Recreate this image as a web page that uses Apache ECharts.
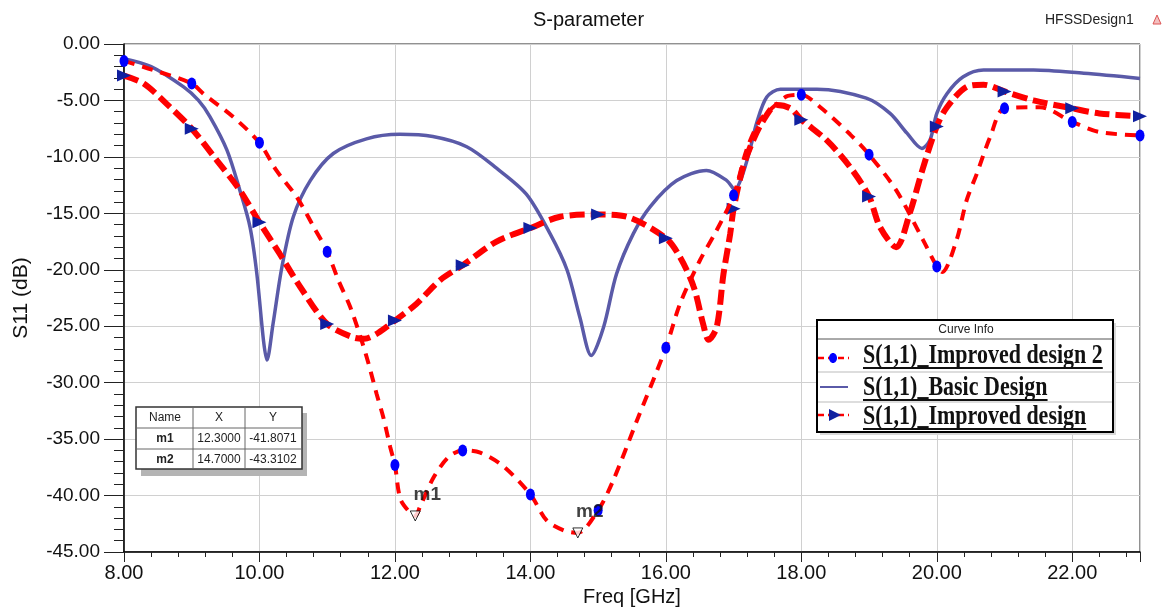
<!DOCTYPE html>
<html>
<head>
<meta charset="utf-8">
<script src="https://cdn.jsdelivr.net/npm/echarts@6/dist/echarts.min.js"></script>
<style>
html,body{margin:0;padding:0;background:#fff;}
#main{width:1168px;height:608px;}
</style>
</head>
<body>
<div id="main"></div>
<script>
// ---- data ----
const seriesNames = ['S(1,1)_Improved design 2', 'S(1,1)_Basic Design', 'S(1,1)_Improved design'];

const basicFreq = [8.0, 8.4, 8.88, 9.1, 9.27, 9.52, 9.71, 9.86, 9.96, 10.06, 10.11, 10.2, 10.33, 10.5, 10.75, 11.09, 11.58, 12.07, 12.56, 13.06, 13.5, 13.94, 14.29, 14.54, 14.73, 14.9, 15.08, 15.27, 15.52, 15.77, 16.16, 16.6, 16.9, 17.02, 17.12, 17.24, 17.34, 17.49, 17.69, 18.23, 18.96, 19.31, 19.56, 19.78, 19.9, 20.0, 20.15, 20.39, 20.69, 21.43, 22.17, 23.0];
const basicS11 = [-1.3, -2.0, -3.8, -5.0, -6.45, -9.4, -12.95, -16.2, -20.3, -26.3, -28.0, -24.8, -19.8, -15.3, -12.1, -9.7, -8.4, -8.0, -8.2, -9.1, -11.0, -13.3, -16.8, -20.0, -24.2, -27.6, -25.1, -20.4, -16.8, -14.4, -12.1, -11.2, -12.1, -12.9, -11.8, -9.4, -7.0, -4.7, -4.0, -4.0, -4.8, -6.15, -7.9, -9.25, -8.5, -6.15, -4.4, -2.9, -2.3, -2.3, -2.6, -3.05];

const imp1Freq = [8.0, 8.29, 8.63, 9.0, 9.37, 9.71, 10.0, 10.3, 10.6, 11.0, 11.39, 11.55, 11.75, 12.0, 12.32, 12.67, 13.0, 13.5, 14.0, 14.44, 15.0, 15.42, 16.0, 16.21, 16.41, 16.55, 16.63, 16.75, 16.85, 16.95, 17.0, 17.14, 17.29, 17.44, 17.64, 17.84, 18.0, 18.37, 18.72, 19.0, 19.16, 19.4, 19.6, 19.8, 20.0, 20.15, 20.44, 20.69, 21.0, 21.43, 22.0, 22.4, 23.0];
const imp1S11 = [-2.8, -3.5, -5.3, -7.5, -10.3, -12.95, -15.8, -18.6, -21.5, -24.8, -26.0, -26.1, -25.6, -24.5, -23.0, -20.9, -19.6, -17.5, -16.3, -15.3, -15.1, -15.3, -17.2, -18.9, -21.5, -24.8, -26.2, -25.1, -20.4, -16.8, -14.6, -10.9, -8.5, -6.75, -5.4, -5.7, -6.7, -8.5, -10.9, -13.5, -16.2, -18.0, -15.0, -10.9, -7.3, -5.6, -3.8, -3.6, -4.2, -5.0, -5.7, -6.15, -6.4];

const imp2Freq = [8.0, 8.43, 9.0, 9.17, 9.61, 10.0, 10.25, 10.55, 10.8, 11.0, 11.17, 11.34, 11.51, 11.61, 11.73, 11.83, 11.93, 12.0, 12.08, 12.22, 12.3, 12.37, 12.57, 12.79, 13.0, 13.26, 13.6, 14.0, 14.24, 14.5, 14.7, 15.0, 15.22, 15.57, 16.0, 16.21, 16.5, 16.75, 17.0, 17.19, 17.39, 17.59, 17.8, 18.0, 18.28, 18.72, 19.0, 19.4, 19.8, 20.0, 20.08, 20.29, 20.44, 20.59, 20.79, 21.0, 21.52, 22.0, 22.4, 23.0];
const imp2S11 = [-1.5, -2.3, -3.5, -4.4, -6.45, -8.75, -11.2, -13.55, -16.2, -18.4, -21.0, -23.3, -26.3, -28.3, -31.0, -33.1, -35.7, -37.3, -40.3, -41.5, -41.8, -41.0, -38.4, -36.6, -36.0, -36.2, -37.4, -39.9, -42.2, -43.1, -43.3, -41.3, -38.7, -33.4, -26.9, -23.0, -19.2, -16.5, -13.4, -9.4, -6.75, -5.56, -4.6, -4.5, -5.6, -8.0, -9.8, -12.95, -17.4, -19.7, -20.2, -17.4, -13.85, -11.5, -8.2, -5.7, -5.6, -6.9, -7.8, -8.1];

const markerNames = ['m1', 'm2'];
const markerFreq = [12.3, 14.7];
const markerS11 = [-41.8071, -43.3102];

// ---- helpers ----
function buildData(freq, vals, withMarkers) {
  return freq.map((f, i) => {
    const item = { value: [f, vals[i]] };
    if (!withMarkers || !Number.isInteger(f)) item.symbol = 'none';
    return item;
  });
}

const RED = '#ff0000';
const BASIC = '#5a5aa8';
const CIRC = '#0000ff';
const TRI = '#1020a0';

const chart = echarts.init(document.getElementById('main'));

// measure legend text widths for underlines
const mctx = document.createElement('canvas').getContext('2d');
const legFont = 'bold 22px "Liberation Serif"';
mctx.font = legFont;

const legendRowsY = [356, 388, 417];
const legendGraphic = [];
legendGraphic.push({ type: 'rect', shape: { x: 820, y: 323, width: 296, height: 112 }, style: { fill: '#d8d8d8' }, z: 100 });
legendGraphic.push({ type: 'rect', shape: { x: 817, y: 320, width: 296, height: 112 }, style: { fill: '#fff', stroke: '#000', lineWidth: 2 }, z: 101 });
legendGraphic.push({ type: 'line', shape: { x1: 818, y1: 339, x2: 1112, y2: 339 }, style: { stroke: '#555', lineWidth: 1 }, z: 102 });
legendGraphic.push({ type: 'line', shape: { x1: 818, y1: 372, x2: 1112, y2: 372 }, style: { stroke: '#bbb', lineWidth: 1 }, z: 102 });
legendGraphic.push({ type: 'line', shape: { x1: 818, y1: 402, x2: 1112, y2: 402 }, style: { stroke: '#bbb', lineWidth: 1 }, z: 102 });
legendGraphic.push({ type: 'text', x: 966, y: 330, style: { text: 'Curve Info', font: '12px "Liberation Sans"', fill: '#222', align: 'center', verticalAlign: 'middle' }, z: 103 });
seriesNames.forEach((n, i) => {
  const y = legendRowsY[i];
  legendGraphic.push({ type: 'text', x: 863, y: y, scaleY: 1.2, style: { text: n, font: legFont, fill: '#111', align: 'left', verticalAlign: 'middle' }, z: 103 });
  const w = mctx.measureText(n).width;
  legendGraphic.push({ type: 'rect', shape: { x: 863, y: y + 11, width: w, height: 2 }, style: { fill: '#111' }, z: 103 });
});
legendGraphic.push({ type: 'line', shape: { x1: 818, y1: 358, x2: 849, y2: 358 }, style: { stroke: RED, lineWidth: 2.5, lineDash: [6, 4] }, z: 103 });
legendGraphic.push({ type: 'ellipse', shape: { cx: 833, cy: 358, rx: 4, ry: 5 }, style: { fill: CIRC }, z: 104 });
legendGraphic.push({ type: 'line', shape: { x1: 820, y1: 387, x2: 848, y2: 387 }, style: { stroke: BASIC, lineWidth: 2 }, z: 103 });
legendGraphic.push({ type: 'line', shape: { x1: 818, y1: 415, x2: 849, y2: 415 }, style: { stroke: RED, lineWidth: 2.5, lineDash: [6, 4] }, z: 103 });
legendGraphic.push({ type: 'polygon', shape: { points: [[829, 409], [841, 415], [829, 421]] }, style: { fill: TRI }, z: 104 });

// marker table
const tbl = [];
tbl.push({ type: 'rect', shape: { x: 141, y: 413, width: 166, height: 63 }, style: { fill: '#b4b4b4' }, z: 100 });
tbl.push({ type: 'rect', shape: { x: 136, y: 407, width: 166, height: 62 }, style: { fill: '#fff', stroke: '#333', lineWidth: 1.5 }, z: 101 });
tbl.push({ type: 'line', shape: { x1: 193, y1: 407, x2: 193, y2: 469 }, style: { stroke: '#666', lineWidth: 1 }, z: 102 });
tbl.push({ type: 'line', shape: { x1: 245, y1: 407, x2: 245, y2: 469 }, style: { stroke: '#666', lineWidth: 1 }, z: 102 });
tbl.push({ type: 'line', shape: { x1: 136, y1: 428, x2: 302, y2: 428 }, style: { stroke: '#666', lineWidth: 1 }, z: 102 });
tbl.push({ type: 'line', shape: { x1: 136, y1: 449, x2: 302, y2: 449 }, style: { stroke: '#666', lineWidth: 1 }, z: 102 });
const colX = [165, 219, 273];
['Name', 'X', 'Y'].forEach((t, j) => {
  tbl.push({ type: 'text', x: colX[j], y: 418, style: { text: t, font: '12px "Liberation Sans"', fill: '#222', align: 'center', verticalAlign: 'middle' }, z: 103 });
});
markerNames.forEach((n, i) => {
  const y = 439 + i * 21;
  tbl.push({ type: 'text', x: colX[0], y: y, style: { text: n, font: 'bold 12px "Liberation Sans"', fill: '#222', align: 'center', verticalAlign: 'middle' }, z: 103 });
  tbl.push({ type: 'text', x: colX[1], y: y, style: { text: markerFreq[i].toFixed(4), font: '12px "Liberation Sans"', fill: '#222', align: 'center', verticalAlign: 'middle' }, z: 103 });
  tbl.push({ type: 'text', x: colX[2], y: y, style: { text: markerS11[i].toFixed(4), font: '12px "Liberation Sans"', fill: '#222', align: 'center', verticalAlign: 'middle' }, z: 103 });
});

const topRight = [
  { type: 'text', x: 1045, y: 20, style: { text: 'HFSSDesign1', font: '14px "Liberation Sans"', fill: '#222', align: 'left', verticalAlign: 'middle' } },
  { type: 'polygon', shape: { points: [[1157, 15], [1153, 24], [1161, 24]] }, style: { fill: '#f3c0c0', stroke: '#d55', lineWidth: 1 } }
];

const lineCommon = { smooth: 0.3 };

const option = {
  animation: false,
  backgroundColor: '#fff',
  title: {
    text: 'S-parameter', left: 528, top: 5,
    textStyle: { fontSize: 20, fontWeight: 'normal', fontFamily: 'Liberation Sans', color: '#111' }
  },
  grid: { left: 124, right: 28, top: 44, bottom: 56, show: true, borderColor: '#222', borderWidth: 1, containLabel: false, outerBoundsMode: 'none' },
  xAxis: {
    type: 'value', min: 8, max: 23, interval: 2,
    name: 'Freq [GHz]', nameLocation: 'middle', nameGap: 35,
    nameTextStyle: { fontSize: 20, fontFamily: 'Liberation Sans', color: '#111' },
    axisLine: { show: true, onZero: false, lineStyle: { color: '#000', width: 1.5 } },
    axisTick: { show: true, length: 10, lineStyle: { color: '#222' } },
    minorTick: { show: true, splitNumber: 5, length: 5, lineStyle: { color: '#222' } },
    axisLabel: { formatter: v => v.toFixed(2), fontSize: 20, fontFamily: 'Liberation Sans', color: '#111', margin: 11, showMaxLabel: false },
    splitLine: { show: true, lineStyle: { color: '#d0d0d0', width: 1 } }
  },
  yAxis: {
    type: 'value', min: -45, max: 0, interval: 5,
    name: 'S11 (dB)', nameLocation: 'middle', nameGap: 92, nameRotate: 90,
    nameTextStyle: { fontSize: 21, fontFamily: 'Liberation Sans', color: '#111' },
    axisLine: { show: true, onZero: false, lineStyle: { color: '#000', width: 1.5 } },
    axisTick: { show: true, length: 20, lineStyle: { color: '#222' } },
    minorTick: { show: true, splitNumber: 5, length: 10, lineStyle: { color: '#222' } },
    axisLabel: { formatter: v => v.toFixed(2), fontSize: 19, fontFamily: 'Liberation Sans', color: '#111', margin: 24 },
    splitLine: { show: true, lineStyle: { color: '#d0d0d0', width: 1 } }
  },
  series: [
    Object.assign({
      name: seriesNames[1], type: 'line', data: buildData(basicFreq, basicS11, false),
      symbol: 'none',
      lineStyle: { color: BASIC, width: 3.5 }, itemStyle: { color: BASIC }, z: 2
    }, lineCommon),
    Object.assign({
      name: seriesNames[2], type: 'line', data: buildData(imp1Freq, imp1S11, true),
      symbol: 'triangle', symbolSize: [12, 14], symbolRotate: -90, showSymbol: true, showAllSymbol: true,
      lineStyle: { color: RED, width: 6, type: [15, 6] }, itemStyle: { color: TRI }, z: 3
    }, lineCommon),
    Object.assign({
      name: seriesNames[0], type: 'line', data: buildData(imp2Freq, imp2S11, true),
      symbol: 'circle', symbolSize: [9, 12], showSymbol: true, showAllSymbol: true,
      lineStyle: { color: RED, width: 4, type: [11, 8] }, itemStyle: { color: CIRC }, z: 4
    }, lineCommon),
    {
      name: 'markers', type: 'scatter',
      data: markerNames.map((n, i) => ({ name: n, value: [markerFreq[i], markerS11[i]] })),
      symbol: 'triangle', symbolRotate: 180, symbolSize: 10,
      itemStyle: { color: '#fff', borderColor: '#000', borderWidth: 1 },
      label: { show: true, formatter: '{b}', position: 'top', offset: [12, -1], fontSize: 19, fontWeight: 'bold', fontFamily: 'Liberation Sans', color: '#111' },
      z: 5
    }
  ],
  graphic: legendGraphic.concat(tbl, topRight)
};
chart.setOption(option);
</script>
</body>
</html>
